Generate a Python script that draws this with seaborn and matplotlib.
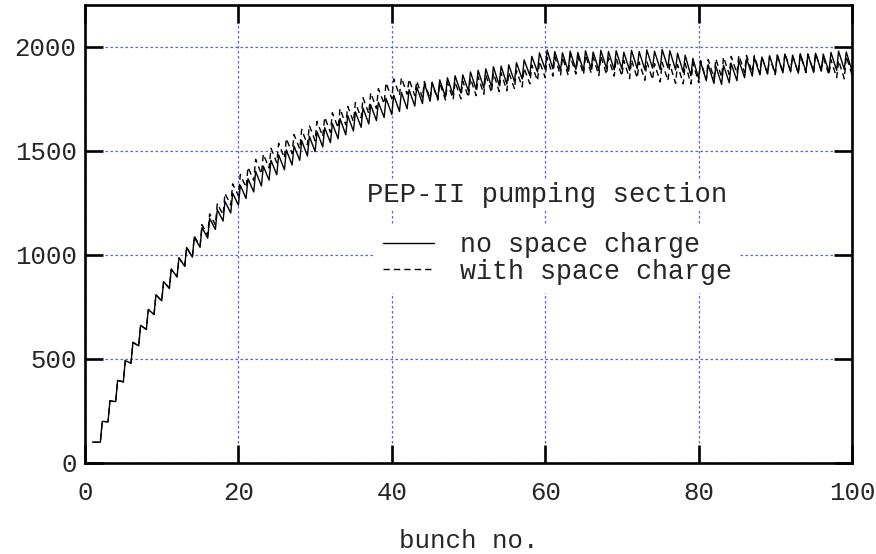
import matplotlib
matplotlib.use("Agg")
import matplotlib.pyplot as plt
import pandas as pd
import seaborn as sns

# Electron-cloud density after each bunch passage (peak right after the bunch,
# trough just before the next one), for the two simulation cases.
bunches = list(range(1, 101))

peak_no_sc = [
    100, 200, 299, 397, 492, 580, 662, 738, 808, 872,
    932, 986, 1036, 1085, 1132, 1176, 1218, 1258, 1297, 1335,
    1367, 1402, 1427, 1455, 1481, 1505, 1524, 1550, 1571, 1592,
    1612, 1632, 1656, 1670, 1688, 1706, 1722, 1734, 1753, 1768,
    1782, 1795, 1808, 1824, 1831, 1842, 1852, 1862, 1866, 1880,
    1888, 1895, 1905, 1908, 1914, 1925, 1938, 1955, 1972, 1985,
    1978, 1972, 1980, 1974, 1982, 1976, 1984, 1978, 1982, 1975,
    1984, 1978, 1986, 1980, 1988, 1982, 1970, 1960, 1945, 1930,
    1915, 1908, 1912, 1920, 1935, 1945, 1950, 1952, 1958, 1962,
    1966, 1960, 1968, 1964, 1970, 1966, 1974, 1980, 1976, 1972,
]
trough_no_sc = [
    100, 198, 295, 390, 480, 563, 642, 714, 780, 840,
    895, 946, 990, 1037, 1081, 1123, 1163, 1202, 1240, 1272,
    1303, 1332, 1360, 1386, 1410, 1433, 1455, 1476, 1497, 1520,
    1540, 1559, 1578, 1596, 1614, 1630, 1646, 1661, 1676, 1690,
    1703, 1716, 1728, 1739, 1750, 1760, 1770, 1779, 1788, 1796,
    1803, 1809, 1816, 1822, 1833, 1846, 1863, 1880, 1893, 1895,
    1888, 1884, 1892, 1886, 1894, 1888, 1896, 1890, 1895, 1888,
    1896, 1890, 1898, 1892, 1900, 1890, 1878, 1862, 1850, 1838,
    1825, 1820, 1828, 1838, 1852, 1860, 1866, 1870, 1872, 1876,
    1880, 1874, 1882, 1878, 1884, 1880, 1888, 1892, 1886, 1880,
]
peak_sc = [
    100, 200, 299, 397, 492, 580, 662, 738, 808, 872,
    932, 986, 1036, 1091, 1146, 1198, 1248, 1296, 1342, 1387,
    1422, 1460, 1485, 1513, 1537, 1560, 1579, 1604, 1623, 1642,
    1662, 1684, 1704, 1715, 1733, 1756, 1780, 1800, 1828, 1846,
    1852, 1845, 1836, 1834, 1826, 1827, 1830, 1834, 1836, 1850,
    1858, 1867, 1875, 1876, 1879, 1887, 1898, 1913, 1932, 1950,
    1953, 1952, 1958, 1956, 1962, 1951, 1956, 1948, 1947, 1935,
    1939, 1928, 1931, 1920, 1926, 1917, 1915, 1920, 1925, 1935,
    1940, 1943, 1952, 1955, 1960, 1960, 1958, 1952, 1953, 1962,
    1971, 1960, 1963, 1967, 1970, 1951, 1939, 1935, 1956, 1967,
]
trough_sc = [
    100, 198, 295, 390, 480, 563, 642, 714, 780, 840,
    895, 946, 990, 1043, 1095, 1145, 1193, 1240, 1285, 1324,
    1358, 1390, 1418, 1444, 1466, 1488, 1510, 1530, 1549, 1570,
    1590, 1611, 1626, 1641, 1659, 1680, 1704, 1727, 1751, 1768,
    1773, 1766, 1756, 1749, 1745, 1745, 1748, 1751, 1758, 1766,
    1773, 1781, 1786, 1790, 1798, 1808, 1823, 1838, 1853, 1860,
    1863, 1864, 1870, 1868, 1874, 1863, 1868, 1860, 1860, 1848,
    1851, 1840, 1843, 1832, 1838, 1825, 1823, 1822, 1830, 1843,
    1850, 1855, 1868, 1873, 1877, 1875, 1874, 1870, 1867, 1876,
    1885, 1874, 1877, 1881, 1884, 1865, 1853, 1847, 1866, 1875,
]

case_labels = ["no space charge", "with space charge"]
title_text = "PEP-II pumping section"
x_label = "bunch no."
x_ticks = [0, 20, 40, 60, 80, 100]
y_ticks = [0, 500, 1000, 1500, 2000]

RISE = 0.25  # fraction of a bunch spacing over which the density jumps


def sawtooth(peaks, troughs, label):
    xs, ys = [bunches[0]], [peaks[0]]
    for i in range(1, len(bunches)):
        k = bunches[i]
        xs += [k, k + RISE]
        ys += [troughs[i - 1], peaks[i]]
    xs.append(bunches[-1] + 1)
    ys.append(troughs[-1])
    return pd.DataFrame({"bunch": xs, "density": ys, "case": label})


df_no = sawtooth(peak_no_sc, trough_no_sc, case_labels[0])
df_sc = sawtooth(peak_sc, trough_sc, case_labels[1])

sns.set_style("white")
plt.rcParams["font.family"] = ["Liberation Mono", "DejaVu Sans Mono"]
FS = 18.5
FS_KEY = 19.2

W, H = 876, 554
fig = plt.figure(figsize=(W / 100, H / 100), dpi=100)
ax = fig.add_axes([85 / W, 1 - 463 / H, (852 - 85) / W, (463 - 5.4) / H])

sns.lineplot(data=df_no, x="bunch", y="density", color="black", lw=1.0,
             estimator=None, sort=False, label=case_labels[0], ax=ax)
sns.lineplot(data=df_sc, x="bunch", y="density", color="black", lw=1.0,
             linestyle=(0, (4.5, 3)), estimator=None, sort=False,
             label=case_labels[1], ax=ax)

ax.set_xlim(0, 100)
ax.set_ylim(0, 2200)
ax.set_xticks(x_ticks)
ax.set_yticks(y_ticks)
ax.set_xticklabels([str(v) for v in x_ticks], fontsize=FS)
ax.set_yticklabels([str(v) for v in y_ticks], fontsize=FS)
ax.set_ylabel("")
ax.set_xlabel(x_label, fontsize=FS, labelpad=17)

ax.grid(True, color="#5a5aff", lw=0.9, ls=(0, (2, 2)))
ax.set_axisbelow(True)
for s in ax.spines.values():
    s.set_visible(True)
    s.set_color("black")
    s.set_linewidth(1.9)
ax.tick_params(axis="both", which="major", direction="in", length=13,
               width=1.9, color="black", top=True, right=True,
               bottom=True, left=True)
ax.tick_params(axis="x", pad=13)
ax.tick_params(axis="y", pad=6)

leg = ax.legend(loc="upper left", bbox_to_anchor=(375 / W, 1 - 224 / H),
                bbox_transform=fig.transFigure, prop={"size": FS_KEY},
                frameon=True, fancybox=False, framealpha=1,
                facecolor="white", edgecolor="none", borderpad=0.3,
                handlelength=1.9, handletextpad=1.0, labelspacing=0.02,
                borderaxespad=0)

fig.text(547 / W, 1 - 195 / H, title_text, fontsize=FS_KEY + 0.4, ha="center",
         va="center", bbox=dict(facecolor="white", edgecolor="none", pad=2))

fig.savefig("out.png", dpi=100)
